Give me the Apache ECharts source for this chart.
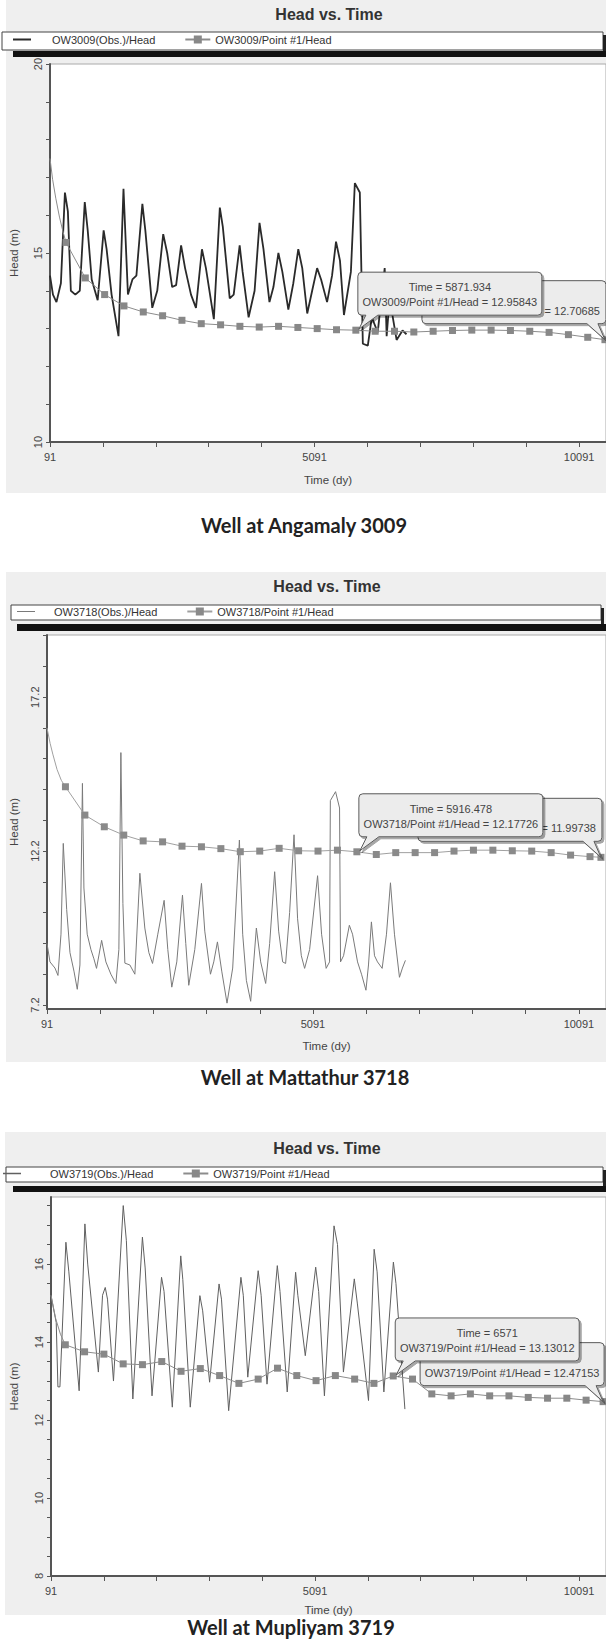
<!DOCTYPE html>
<html><head><meta charset="utf-8">
<script src="https://cdn.jsdelivr.net/npm/echarts@6/dist/echarts.min.js"></script>
<style>html,body{margin:0;padding:0;background:#fff;}#chart{width:606px;height:1641px;}</style>
</head><body><div id="chart"></div>
<script>
// ---------- tick labels ----------
const xLabelTicks = [91, 5091, 10091];
const xMinorTicks = [91, 1091, 2091, 3091, 4091, 5091, 6091, 7091, 8091, 9091, 10091];
const yLabels1 = [10, 15, 20];
const yTicks1 = [10, 11, 12, 13, 14, 15, 16, 17, 18, 19, 20];
const yLabels2 = [7.2, 12.2, 17.2];
const yTicks2 = [7.2, 8.2, 9.2, 10.2, 11.2, 12.2, 13.2, 14.2, 15.2, 16.2, 17.2, 18.2, 19.2];
const yLabels3 = [8, 10, 12, 14, 16];
const yTicks3 = [8, 8.5, 9, 9.5, 10, 10.5, 11, 11.5, 12, 12.5, 13, 13.5, 14, 14.5, 15, 15.5, 16, 16.5, 17, 17.5];

// ---------- titles ----------
const chartTitle = 'Head vs. Time';
const captions = ['Well at Angamaly 3009', 'Well at Mattathur 3718', 'Well at Mupliyam 3719'];
const obsNames = ['OW3009(Obs.)/Head', 'OW3718(Obs.)/Head', 'OW3719(Obs.)/Head'];
const simNames = ['OW3009/Point #1/Head', 'OW3718/Point #1/Head', 'OW3719/Point #1/Head'];

// ---------- Panel 1 : OW3009 ----------
const obsTime1 = [91,147,213,297,373,429,485,570,654,748,804,879,992,1105,1161,1255,1386,1480,1564,1649,
 1724,1837,1893,2024,2118,2231,2306,2400,2475,2569,2644,2756,2850,2963,3038,3188,3301,3357,3488,3563,
 3676,3732,3845,3958,4051,4126,4239,4314,4408,4483,4596,4690,4784,4859,4953,5046,5140,5215,5328,5422,
 5497,5572,5647,5778,5853,5947,6004,6098,6173,6285,6417,6454,6510,6642,6754,6829];
const obsHead1 = [14.4,13.9,13.7,14.2,16.6,16.1,14.0,13.9,14.0,16.35,15.6,14.3,13.75,15.6,15.1,13.9,12.8,16.7,13.9,14.3,
 14.4,16.3,15.6,13.55,14.0,15.5,15.0,14.1,14.15,15.2,14.6,13.9,13.55,15.1,14.6,13.25,16.2,15.7,13.8,13.9,
 15.2,14.5,13.3,14.0,15.8,15.1,13.7,14.1,15.0,14.5,13.5,14.2,15.1,14.6,13.4,14.0,14.6,14.3,13.7,14.4,
 15.3,14.8,13.36,14.5,16.85,16.6,12.6,12.55,13.3,12.9,14.6,12.8,13.8,12.7,12.95,12.85];
const simCurveTime1 = [91, 140, 200, 270, 330];
const simCurveHead1 = [17.5, 16.95, 16.45, 15.95, 15.6];
const simMarkTime1 = [393.2,758.4,1123.7,1488.9,1854.2,2219.4,2584.7,2949.9,3315.2,3680.4,4045.7,4410.9,4776.2,5141.4,5506.7,
 5871.934,6237.2,6602.4,6967.7,7332.9,7698.2,8063.4,8428.7,8793.9,9159.2,9524.4,9889.7,10254.9,10580];
const simMarkHead1 = [15.28,14.34,13.9,13.6,13.44,13.34,13.22,13.13,13.1,13.06,13.04,13.06,13.03,13.0,12.97,
 12.95843,12.93,12.93,12.91,12.93,12.95,12.96,12.96,12.95,12.93,12.9,12.84,12.77,12.70685];
const callTime1 = [10580, 5871.934];
const callHead1 = [12.70685, 12.95843];
const callLines1 = [['', '= 12.70685'], ['Time = 5871.934', 'OW3009/Point #1/Head = 12.95843']];

// ---------- Panel 2 : OW3718 ----------
const obsTime2 = [91,147,241,297,354,397,461,523,598,660,710,757,785,847,917,973,1022,1118,1198,1292,
 1386,1442,1480,1518,1555,1649,1743,1837,1930,2006,2075,2174,2293,2362,2437,2531,2638,2700,2756,2869,
 2995,3057,3164,3226,3295,3376,3475,3582,3708,3770,3839,3920,4027,4108,4202,4277,4371,4446,4521,4577,
 4652,4735,4802,4872,4934,5028,5178,5253,5339,5403,5418,5516,5591,5609,5666,5775,5835,5929,6004,6087,
 6135,6190,6248,6304,6392,6473,6548,6623,6717,6773,6829];
const obsHead2 = [9.2,8.6,8.4,8.16,9.5,12.45,10.3,8.9,8.3,7.71,8.5,14.4,11.0,9.5,9.0,8.7,8.39,9.3,8.6,8.2,
 7.9,9.0,15.4,10.5,8.56,8.5,8.2,11.48,9.7,8.9,8.55,9.5,10.6,9.0,7.78,8.6,10.77,9.2,7.84,9.0,
 11.15,9.6,8.2,8.6,9.25,8.3,7.26,8.4,12.56,9.5,8.0,7.32,9.7,8.6,7.9,9.2,11.53,9.6,8.6,8.55,
 10.2,12.73,10.0,8.8,8.39,9.0,11.4,9.5,8.39,8.6,13.84,14.13,13.6,8.6,8.8,9.79,9.5,8.6,8.2,7.68,
 8.5,9.9,8.8,8.6,8.39,9.5,11.17,9.5,8.1,8.4,8.65];
const simCurveTime2 = [91, 150, 200, 280, 360];
const simCurveHead2 = [16.2, 15.7, 15.35, 14.85, 14.5];
const simMarkTime2 = [437.7,803.0,1168.2,1533.5,1898.7,2264.0,2629.2,2994.5,3359.7,3725.0,4090.2,4455.5,4820.7,5186.0,5551.2,
 5916.478,6281.7,6647.0,7012.2,7377.5,7742.7,8108.0,8473.2,8838.5,9203.7,9569.0,9934.2,10299.5,10505];
const simMarkHead2 = [14.29,13.37,12.99,12.72,12.53,12.50,12.36,12.34,12.28,12.18,12.2,12.29,12.21,12.2,12.23,
 12.17726,12.09,12.15,12.15,12.15,12.2,12.23,12.23,12.21,12.2,12.15,12.07,12.02,11.99738];
const callTime2 = [10505, 5916.478];
const callHead2 = [11.99738, 12.17726];
const callLines2 = [['', '= 11.99738'], ['Time = 5916.478', 'OW3718/Point #1/Head = 12.17726']];

// ---------- Panel 3 : OW3719 ----------
const obsTime3 = [91,190,222,260,373,429,624,733,786,988,1067,1118,1161,1274,1459,1518,1641,1822,1874,2004,
 2184,2231,2388,2548,2587,2728,2910,2963,3094,3273,3319,3455,3687,3732,3817,4014,4070,4181,4376,4427,
 4564,4723,4765,4906,5103,5159,5268,5450,5516,5628,5834,5891,6103,6210,6266,6394,6574,6623,6792];
const obsHead3 = [15.19,14.5,12.85,12.85,16.56,15.8,12.75,17.03,16.0,13.23,15.2,15.4,15.1,13.0,17.5,16.6,12.54,16.69,15.9,12.62,
 15.66,15.3,12.33,16.21,15.6,12.33,15.19,14.8,12.97,15.49,15.1,12.24,15.66,15.2,13.1,15.83,15.2,12.92,15.96,15.3,
 12.72,15.79,15.2,13.65,15.92,15.3,12.62,16.98,16.5,13.23,15.62,15.0,12.5,16.38,15.8,12.72,16.05,15.5,12.28];
const simCurveTime3 = [91, 180, 270];
const simCurveHead3 = [15.2, 14.6, 14.2];
const simMarkTime3 = [361.8,727.0,1092.3,1457.5,1822.8,2188.0,2553.3,2918.5,3283.8,3649.0,4014.3,4379.5,4744.8,5110.0,5475.3,
 5840.5,6205.8,6571,6936.3,7301.5,7666.8,8032.0,8397.3,8762.5,9127.8,9493.0,9858.3,10223.5,10545];
const simMarkHead3 = [13.93,13.75,13.69,13.44,13.42,13.50,13.25,13.32,13.14,12.94,13.05,13.33,13.14,13.01,13.14,
 13.05,12.94,13.13012,13.05,12.67,12.62,12.67,12.62,12.62,12.58,12.56,12.56,12.51,12.47153];
const callTime3 = [10545, 6571];
const callHead3 = [12.47153, 13.13012];
const callLines3 = [['', 'OW3719/Point #1/Head = 12.47153'], ['Time = 6571', 'OW3719/Point #1/Head = 13.13012']];

// ---------- layout / style (not data) ----------
const FONT = '"Liberation Sans", Arial, sans-serif';
function lineIcon(th) { // thin line legend icon, bounding box 25x10
  const a = (5 - th / 2).toFixed(2), b = (5 + th / 2).toFixed(2);
  return `path://M0,0 L0.01,0 L0.01,0.01 L0,0.01 Z M0,${a} L18,${a} L18,${b} L0,${b} Z M24.99,9.99 L25,9.99 L25,10 L24.99,10 Z`;
}
const panels = [
  {grid:{left:46, top:64, width:560, height:378}, yMin:10, yMax:20, yLabels:yLabels1, yTicks:yTicks1, yFmt:v=>String(v),
   obsT:obsTime1, obsH:obsHead1, cT:simCurveTime1, cH:simCurveHead1, mT:simMarkTime1, mH:simMarkHead1,
   callT:callTime1, callH:callHead1, callL:callLines1, backAlign:'right',
   obsColor:'#2a2a2a', obsWidth:1.8, simColor:'#8c8c8c', markColor:'#888', iconTh:2,
   bg:[6,0,600,493], leg:[2,32,601,18], bar:[13,51,593,6], legTop:34, legLeft:13, legPad:9,
   titleXY:[329,14], capXY:[304,525], yNameGap:30, xNameGap:32},
  {grid:{left:47, top:635, width:559, height:374}, yMin:7.07, yMax:19.22, yLabels:yLabels2, yTicks:yTicks2, yFmt:v=>v.toFixed(1),
   obsT:obsTime2, obsH:obsHead2, cT:simCurveTime2, cH:simCurveHead2, mT:simMarkTime2, mH:simMarkHead2,
   callT:callTime2, callH:callHead2, callL:callLines2, backAlign:'right',
   obsColor:'#7a7a7a', obsWidth:1, simColor:'#a0a0a0', markColor:'#8a8a8a', iconTh:1,
   bg:[6,572,600,490], leg:[11,605,590,15], bar:[17,624,589,7], legTop:606, legLeft:17, legPad:7,
   titleXY:[327,586], capXY:[305,1077], yNameGap:27, xNameGap:31},
  {grid:{left:45, top:1197, width:561, height:379}, yMin:8, yMax:17.72, yLabels:yLabels3, yTicks:yTicks3, yFmt:v=>String(v),
   obsT:obsTime3, obsH:obsHead3, cT:simCurveTime3, cH:simCurveHead3, mT:simMarkTime3, mH:simMarkHead3,
   callT:callTime3, callH:callHead3, callL:callLines3, backAlign:'center',
   obsColor:'#606060', obsWidth:1, simColor:'#8c8c8c', markColor:'#888', iconTh:1.4,
   bg:[5,1132,601,483], leg:[6,1167,597,15], bar:[13,1186,593,6], legTop:1168, legLeft:3, legPad:17,
   titleXY:[327,1148], capXY:[291,1627], yNameGap:31, xNameGap:28}
];

const grids = [], xAxes = [], yAxes = [], series = [], legends = [], graphics = [];
panels.forEach((p, i) => {
  grids.push(Object.assign({show:true, backgroundColor:'#fff', borderColor:'#aaa', borderWidth:1, containLabel:false}, p.grid));
  xAxes.push({gridIndex:i, type:'value', min:91, max:10600, name:'Time (dy)', nameLocation:'middle', nameGap:p.xNameGap,
    nameTextStyle:{fontFamily:FONT, fontSize:11.5, color:'#444'},
    axisLine:{show:true, onZero:false, lineStyle:{color:'#555', width:2}},
    axisTick:{show:true, customValues:xMinorTicks, length:5, lineStyle:{color:'#555', width:1}},
    axisLabel:{show:true, customValues:xLabelTicks, fontFamily:FONT, fontSize:11, color:'#444', margin:9, formatter:v=>String(v)},
    splitLine:{show:false}});
  yAxes.push({gridIndex:i, type:'value', min:p.yMin, max:p.yMax, name:'Head (m)', nameLocation:'middle', nameRotate:90, nameGap:p.yNameGap,
    nameTextStyle:{fontFamily:FONT, fontSize:11.5, color:'#444'},
    axisLine:{show:true, onZero:false, lineStyle:{color:'#555', width:2}},
    axisTick:{show:true, customValues:p.yTicks, length:4, lineStyle:{color:'#555', width:1}},
    axisLabel:{show:true, customValues:p.yLabels, rotate:90, fontFamily:FONT, fontSize:11, color:'#444', margin:7, formatter:p.yFmt},
    splitLine:{show:false}});
  series.push({name:obsNames[i], type:'line', xAxisIndex:i, yAxisIndex:i, z:2, symbol:'none', showSymbol:false,
    lineStyle:{color:p.obsColor, width:p.obsWidth}, itemStyle:{color:p.obsColor},
    data:p.obsT.map((t, k) => [t, p.obsH[k]]), animation:false});
  const simData = p.cT.map((t, k) => ({value:[t, p.cH[k]], symbol:'none'}))
    .concat(p.mT.map((t, k) => [t, p.mH[k]]));
  series.push({name:simNames[i], type:'line', xAxisIndex:i, yAxisIndex:i, z:3, symbol:'rect', symbolSize:7,
    showSymbol:true, showAllSymbol:true, lineStyle:{color:p.simColor, width:1},
    itemStyle:{color:p.markColor}, data:simData, animation:false});
  series.push({type:'custom', coordinateSystem:'cartesian2d', xAxisIndex:i, yAxisIndex:i, z:6, clip:false, silent:true, animation:false,
    data:p.callT.map((t, k) => [t, p.callH[k]]),
    renderItem:(params, api) => {
      const k = params.dataIndex;
      const pt = api.coord([api.value(0), api.value(1)]);
      const ax = pt[0], ay = pt[1];
      const W = 184, H = 43, r = 4;
      const front = (k === p.callT.length - 1);
      let L, T, b1, b2, tx, ty;
      if (front) { L = ax + 2; T = ay - 58; b1 = ax + 10; b2 = ax + 22; tx = ax + 3; ty = ay - 1; }
      else { L = ax + 1 - W; T = ay - 59; b1 = ax - 18; b2 = ax - 7; tx = ax; ty = ay; }
      const R = L + W, B = T + H;
      const d = `M${L+r},${T} L${R-r},${T} Q${R},${T} ${R},${T+r} L${R},${B-r} Q${R},${B} ${R-r},${B} L${b2},${B} L${tx},${ty} L${b1},${B} L${L+r},${B} Q${L},${B} ${L},${B-r} L${L},${T+r} Q${L},${T} ${L+r},${T} Z`;
      const lines = p.callL[k];
      const children = [{type:'path', shape:{pathData:d},
        style:{fill:'#ececec', stroke:'#5a5a5a', lineWidth:1, shadowColor:'rgba(0,0,0,0.35)', shadowOffsetX:2, shadowOffsetY:2, shadowBlur:1}}];
      lines.forEach((s, j) => {
        if (!s) return;
        const right = (!front && p.backAlign === 'right');
        children.push({type:'text', x: right ? R - 6 : (L + R) / 2, y:T + 15 + j * 15,
          style:{text:s, fill:'#444', font:'11px ' + FONT, textAlign: right ? 'right' : 'center', textVerticalAlign:'middle',
                 align: right ? 'right' : 'center', verticalAlign:'middle'}});
      });
      return {type:'group', children};
    }});
  legends.push({top:p.legTop, left:p.legLeft, padding:0, orient:'horizontal', itemWidth:25, itemHeight:10, itemGap:29, selectedMode:false,
    textStyle:{fontFamily:FONT, fontSize:11, color:'#333'},
    data:[{name:obsNames[i], icon:lineIcon(p.iconTh), textStyle:{padding:[0, 0, 0, p.legPad]}}, {name:simNames[i]}]});
  graphics.push({type:'rect', z:-10, silent:true, shape:{x:p.bg[0], y:p.bg[1], width:p.bg[2], height:p.bg[3]}, style:{fill:'#efefef'}});
  graphics.push({type:'rect', z:1, silent:true, shape:{x:p.leg[0], y:p.leg[1], width:p.leg[2], height:p.leg[3]}, style:{fill:'#fff', stroke:'#444', lineWidth:1}});
  graphics.push({type:'rect', z:1, silent:true, shape:{x:p.leg[0] + p.leg[2], y:p.leg[1] + 3, width:3, height:p.bar[1] - p.leg[1] - 3}, style:{fill:'#222'}});
  graphics.push({type:'rect', z:1, silent:true, shape:{x:p.bar[0], y:p.bar[1], width:p.bar[2], height:p.bar[3]}, style:{fill:'#111'}});
  graphics.push({type:'text', z:5, silent:true, x:p.titleXY[0], y:p.titleXY[1],
    style:{text:chartTitle, fill:'#333', font:'bold 16px ' + FONT, textAlign:'center', textVerticalAlign:'middle', align:'center', verticalAlign:'middle'}});
  graphics.push({type:'text', z:5, silent:true, x:p.capXY[0], y:p.capXY[1],
    style:{text:captions[i], fill:'#222', font:'bold 20px Lato, "Noto Sans", sans-serif', textAlign:'center', textVerticalAlign:'middle', align:'center', verticalAlign:'middle'}});
});

const chart = echarts.init(document.getElementById('chart'), null, {renderer:'svg', width:606, height:1641});
chart.setOption({
  animation:false,
  backgroundColor:'#ffffff',
  grid:grids, xAxis:xAxes, yAxis:yAxes, series:series, legend:legends,
  graphic:{elements:graphics}
});
</script></body></html>
